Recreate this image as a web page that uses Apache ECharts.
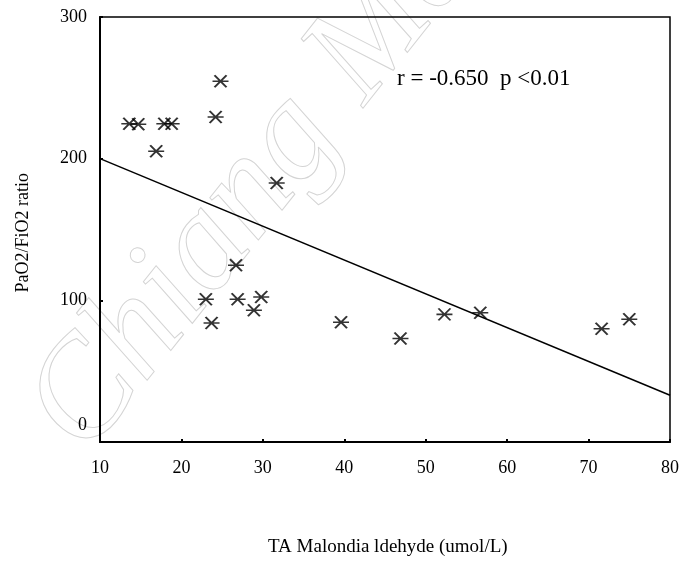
<!DOCTYPE html>
<html>
<head>
<meta charset="utf-8">
<script src="https://cdn.jsdelivr.net/npm/echarts@6/dist/echarts.min.js"></script>
<style>html,body{margin:0;padding:0;background:#fff;}#c{width:682px;height:564px;}</style>
</head>
<body>
<div id="c"></div>
<script>
// TA Malondialdehyde (umol/L)
const mdaValues = [13.6, 14.7, 17.9, 18.8, 16.9, 24.2, 24.8, 31.7, 26.7, 23.0, 26.9, 29.8, 28.9, 23.7, 39.6, 46.9, 52.3, 56.7, 71.6, 75.0];
// PaO2/FiO2 ratio
const pfRatio   = [224.7, 224.3, 224.7, 224.7, 205.2, 229.4, 254.6, 182.8, 124.7, 100.7, 100.7, 102.4, 93.0, 84.0, 84.5, 73.0, 90.1, 91.3, 80.0, 86.6];
// regression line end points
const fitX = [10, 80];
const fitY = [200, 33];
const xTicks = [10, 20, 30, 40, 50, 60, 70, 80];
const yTicks = [0, 100, 200, 300];
const annotation = 'r = -0.650  p <0.01';
const xTitle = 'TA Malondia ldehyde (umol/L)';
const yTitle = 'PaO2/FiO2 ratio';
const watermark = 'Chiang Mai';

const chart = echarts.init(document.getElementById('c'), null, {renderer: 'canvas'});
const serif = '"Liberation Serif", "DejaVu Serif", serif';
const star = 'path://M0,6L16,6M2,0L14,12M14,0L2,12';

chart.setOption({
  animation: false,
  backgroundColor: '#fff',
  grid: {left: 100, right: 9, top: 17, bottom: 122, show: true, borderColor: '#000', borderWidth: 1.5},
  xAxis: {
    type: 'value', min: xTicks[0], max: xTicks[xTicks.length - 1], interval: 10,
    axisLine: {lineStyle: {color: '#000', width: 2}},
    axisTick: {show: true, inside: true, length: 3, lineStyle: {color: '#000', width: 2}},
    splitLine: {show: false},
    axisLabel: {color: '#000', fontFamily: serif, fontSize: 18, margin: 17}
  },
  yAxis: {
    type: 'value', min: yTicks[0], max: yTicks[yTicks.length - 1], interval: 100,
    axisLine: {lineStyle: {color: '#000', width: 2}},
    axisTick: {show: true, inside: true, length: 3, lineStyle: {color: '#000', width: 2}},
    splitLine: {show: false},
    axisLabel: {
      color: '#000', fontFamily: serif, fontSize: 18, margin: 13,
      formatter: v => v === 0 ? '{z|0}' : String(v),
      rich: {z: {fontFamily: serif, fontSize: 18, color: '#000', padding: [0, 0, 34, 0]}}
    }
  },
  graphic: [
    {type: 'text', x: 112, y: 478, rotation: 0.9, silent: true, z: -1,
     style: {text: watermark, x: 0, y: 0, textVerticalAlign: 'bottom', fontFamily: serif, fontStyle: 'italic', fontSize: 140, fill: 'none', stroke: '#d4d4d4', lineWidth: 1}},
    {type: 'text', left: 397, top: 67, style: {text: annotation, fontFamily: serif, fontSize: 23, fill: '#000'}},
    {type: 'text', left: 268, top: 538, style: {text: xTitle, fontFamily: serif, fontSize: 19, fill: '#000'}},
    {type: 'text', left: 14, top: 173, rotation: Math.PI / 2, style: {text: yTitle, fontFamily: serif, fontSize: 18, fill: '#000'}}
  ],
  series: [
    {
      type: 'scatter',
      data: mdaValues.map((x, i) => [x, pfRatio[i]]),
      symbol: star, symbolSize: [16, 12],
      itemStyle: {color: 'rgba(0,0,0,0)', borderColor: '#000', borderWidth: 1.8}
    },
    {
      type: 'line',
      data: fitX.map((x, i) => [x, fitY[i]]),
      showSymbol: false, symbol: 'none',
      lineStyle: {color: '#000', width: 1.5}
    }
  ]
});
</script>
</body>
</html>
